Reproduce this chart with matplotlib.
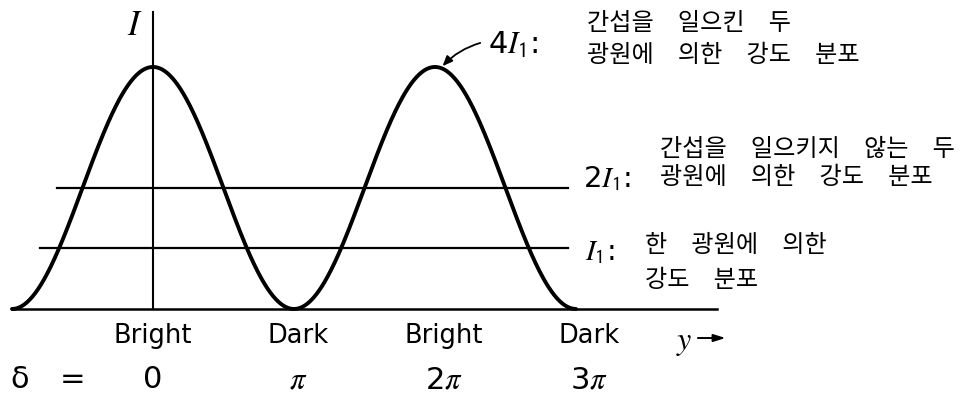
import numpy as np
import matplotlib
matplotlib.use("Agg")
import matplotlib.pyplot as plt

plt.rcParams['font.family'] = ['DejaVu Sans', 'Noto Sans CJK KR']
plt.rcParams['mathtext.fontset'] = 'stix'

# Phase positions (in units of pi) and their labels
phase_ticks = [0, 1, 2, 3]
fringe_labels = ['Bright', 'Dark', 'Bright', 'Dark']
phase_labels = ['0', r'$\pi$', r'2$\pi$', r'3$\pi$']

# Intensity levels in units of I1
single_level = 1      # one source
incoherent_level = 2  # two non-interfering sources
peak_level = 4        # two interfering sources (maximum)

level_symbols = [r'$I_\mathsf{1}$:', r'2$I_\mathsf{1}$:', r'4$I_\mathsf{1}$:']
level_notes = [
    ['한\u3000광원에\u3000의한', '강도\u3000분포'],
    ['간섭을\u3000일으키지\u3000않는\u3000두', '광원에\u3000의한\u3000강도\u3000분포'],
    ['간섭을\u3000일으킨\u3000두', '광원에\u3000의한\u3000강도\u3000분포'],
]

# Phase range of the interference curve (units of pi)
curve_start, curve_end = -1, 3

fig = plt.figure(figsize=(9.65, 3.99), dpi=100)
ax = fig.add_axes([0, 0, 1, 1])
ax.set_xlim(-1.085, 5.759)
ax.set_ylim(-1.488, 5.107)
ax.axis('off')

ink = 'black'
kr = ['Noto Sans CJK KR', 'DejaVu Sans']
kr_size = 17.4

# Interference pattern I = 4 I1 cos^2(delta/2)
delta = np.linspace(curve_start, curve_end, 600)
intensity = peak_level * np.cos(np.pi * delta / 2) ** 2
ax.plot(delta, intensity, color=ink, lw=2.8, solid_capstyle='round')

# Baseline and intensity axis
ax.plot([-1.0, 4.0], [0, 0], color=ink, lw=1.8)
ax.plot([0, 0], [0, 4.91], color=ink, lw=1.5)
ax.text(-0.13, 4.69, r'$I$', fontsize=25, ha='center', va='center', color=ink)

# Uniform intensity levels
ax.plot([-0.68, 2.94], [incoherent_level] * 2, color=ink, lw=1.6)
ax.plot([-0.80, 2.94], [single_level] * 2, color=ink, lw=1.6)


def note(x, y, s):
    ax.text(x, y, s, family=kr, fontsize=kr_size, ha='left', va='center', color=ink)


# Level labels with explanatory notes
ax.text(3.064, 0.94, level_symbols[0], fontsize=21, ha='left', va='center', color=ink)
note(3.49, 1.06, level_notes[0][0])
note(3.49, 0.48, level_notes[0][1])

ax.text(3.05, 2.15, level_symbols[1], fontsize=21, ha='left', va='center', color=ink)
note(3.596, 2.645, level_notes[1][0])
note(3.596, 2.18, level_notes[1][1])

ax.text(2.376, 4.36, level_symbols[2], fontsize=22, ha='left', va='center', color=ink)
note(3.078, 4.73, level_notes[2][0])
note(3.078, 4.20, level_notes[2][1])

# Arrow pointing at the second maximum
ax.annotate('', xy=(2.04, peak_level - 0.02), xytext=(2.34, 4.41),
            arrowprops=dict(arrowstyle='-|>,head_length=0.6,head_width=0.25',
                            color=ink, lw=1.3, connectionstyle='arc3,rad=0.15'))

# Fringe names and phase values under the baseline
for t, name, ph in zip(phase_ticks, fringe_labels, phase_labels):
    shift = 0.03 * t
    ax.text(t + shift, -0.45, name, fontsize=18.5, ha='center', va='center', color=ink)
    ax.text(t + shift, -1.17, ph, fontsize=22, ha='center', va='center', color=ink)

ax.text(-0.943, -1.17, 'δ', fontsize=22, ha='center', va='center', color=ink)
ax.text(-0.567, -1.17, '=', fontsize=22, ha='center', va='center', color=ink)

# Position axis label
ax.text(3.77, -0.55, r'$y$', fontsize=23, ha='center', va='center', color=ink)
ax.annotate('', xy=(4.08, -0.48), xytext=(3.845, -0.48),
            arrowprops=dict(arrowstyle='-|>,head_length=0.7,head_width=0.22',
                            color=ink, lw=1.4))

fig.savefig('out.png', dpi=100, facecolor='white')
